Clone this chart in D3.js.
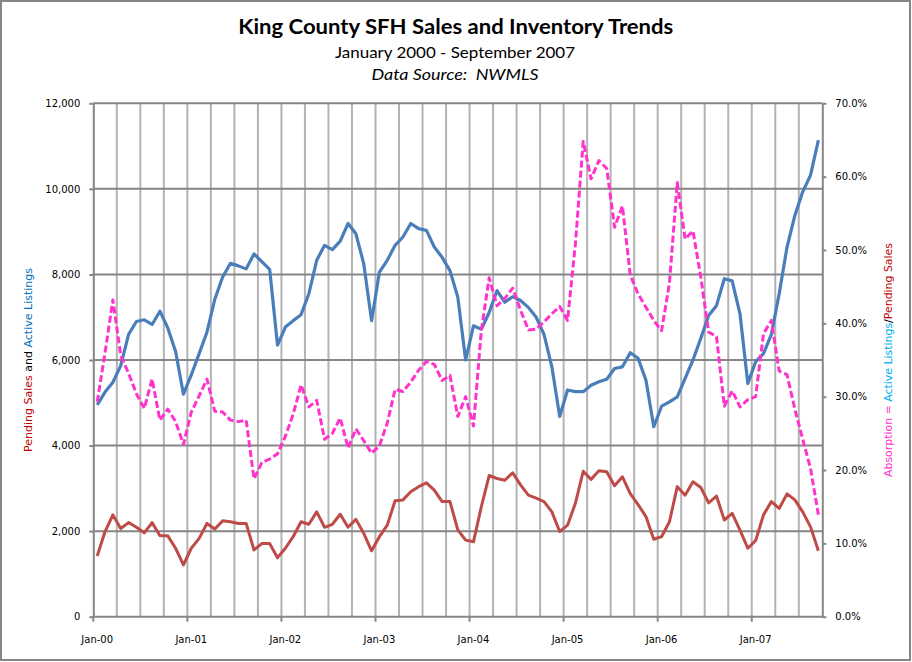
<!DOCTYPE html>
<html>
<head>
<meta charset="utf-8">
<script src="https://cdn.jsdelivr.net/npm/d3@7/dist/d3.min.js"></script>
<style>
  body { margin: 0; background: #fff; }
  svg { display: block; }
  text { white-space: pre; }
</style>
</head>
<body>
<svg id="chart" width="912" height="662"></svg>
<script>
// monthly categories, Jan-00 .. Sep-07
const monthNames = ['Jan', 'Feb', 'Mar', 'Apr', 'May', 'Jun', 'Jul', 'Aug', 'Sep', 'Oct', 'Nov', 'Dec'];
const years = ['00', '01', '02', '03', '04', '05', '06', '07'];
const months = [];
years.forEach(y => monthNames.forEach(m => months.push(m + '-' + y)));
months.length = 93;

const yearTicks = ['Jan-00', 'Jan-01', 'Jan-02', 'Jan-03', 'Jan-04', 'Jan-05', 'Jan-06', 'Jan-07'];

const activeListings = [
  4950, 5250, 5480, 5870, 6600, 6900, 6940, 6830, 7140, 6750, 6200, 5200,
  5650, 6150, 6650, 7420, 7940, 8260, 8200, 8130, 8480, 8300, 8120, 6350,
  6770, 6920, 7060, 7550, 8330, 8680, 8580, 8780, 9190, 8950, 8250, 6920,
  8055, 8330, 8680, 8875, 9190, 9070, 9030, 8640, 8400, 8090, 7470, 6000,
  6800, 6720, 7110, 7620, 7350, 7480, 7390, 7230, 7000, 6600, 5840, 4680,
  5300, 5260, 5260, 5410, 5490, 5550, 5800, 5840, 6170, 6040, 5530, 4440,
  4920, 5020, 5140, 5570, 6000, 6510, 7040, 7270, 7900, 7850, 7080, 5450,
  5960, 6150, 6600, 7550, 8640, 9380, 9930, 10320, 11140
];

const pendingSales = [
  1420, 1990, 2380, 2060, 2200, 2090, 1960, 2200, 1890, 1890, 1600, 1210,
  1600, 1830, 2180, 2050, 2240, 2220, 2180, 2180, 1560, 1710, 1710, 1380,
  1600, 1870, 2220, 2160, 2450, 2090, 2160, 2395, 2090, 2275, 1950, 1540,
  1870, 2140, 2710, 2730, 2920, 3040, 3130, 2960, 2690, 2690, 2030, 1790,
  1750, 2570, 3300, 3230, 3190, 3365, 3080, 2840, 2770, 2690, 2450, 1990,
  2140, 2650, 3400, 3210, 3410, 3390, 3060, 3270, 2875, 2620, 2340, 1810,
  1870, 2220, 3040, 2840, 3155, 3020, 2660, 2820, 2260, 2415, 2025, 1600,
  1780, 2380, 2690, 2530, 2870, 2730, 2450, 2100, 1540
];

// percent
const absorption = [
  29.3, 36.0, 43.2, 35.6, 33.2, 30.4, 28.4, 32.4, 26.8, 28.3, 26.6, 23.5,
  27.9, 30.1, 32.4, 28.0, 27.9, 26.8, 26.6, 26.8, 18.8, 21.0, 21.5, 22.2,
  24.6, 27.6, 31.6, 28.6, 29.5, 24.2, 25.0, 27.1, 23.0, 25.6, 24.0, 22.3,
  23.3, 26.4, 31.0, 30.7, 32.0, 33.6, 34.8, 34.4, 32.2, 32.9, 27.3, 30.0,
  26.0, 39.0, 46.2, 42.4, 43.4, 44.8, 41.8, 39.1, 39.2, 40.2, 41.3, 42.3,
  40.4, 50.8, 64.8, 59.7, 62.2, 61.1, 53.1, 56.0, 46.6, 44.0, 42.2, 40.4,
  39.0, 45.5, 59.2, 51.5, 52.6, 46.3, 38.8, 38.2, 28.7, 30.8, 28.6, 29.6,
  30.0, 38.6, 40.4, 33.5, 33.0, 28.3, 24.2, 20.2, 13.9
];

const leftTicks = [0, 2000, 4000, 6000, 8000, 10000, 12000];
const rightTicks = [0, 10, 20, 30, 40, 50, 60, 70];

const svg = d3.select('#chart');
const plot = { left: 93.3, right: 822.3, top: 103.3, bottom: 616.7 };
const tickFont = '10px "DejaVu Sans", Verdana, sans-serif';

const x = d3.scaleBand().domain(months).range([plot.left, plot.right]).padding(0);
const xc = d => x(d) + x.bandwidth() / 2;
const yL = d3.scaleLinear().domain([0, 12000]).range([plot.bottom, plot.top]);
const yR = d3.scaleLinear().domain([0, 70]).range([plot.bottom, plot.top]);

// outer chart border
svg.append('rect')
  .attr('x', 1).attr('y', 1).attr('width', 909).attr('height', 659)
  .attr('fill', '#fff').attr('stroke', '#868686').attr('stroke-width', 2);

// vertical grid, every quarter
svg.append('g')
  .selectAll('line')
  .data(months.filter((m, i) => i > 0 && i % 3 === 0))
  .join('line')
  .attr('x1', d => x(d)).attr('x2', d => x(d))
  .attr('y1', plot.top).attr('y2', plot.bottom)
  .attr('stroke', '#b3b3b3').attr('stroke-width', 2);

// horizontal grid
svg.append('g')
  .selectAll('line')
  .data(leftTicks.slice(1))
  .join('line')
  .attr('x1', plot.left).attr('x2', plot.right)
  .attr('y1', d => yL(d)).attr('y2', d => yL(d))
  .attr('stroke', '#868686').attr('stroke-width', 2);

function axisStyle(g) {
  g.selectAll('path, line').attr('stroke', '#868686').attr('stroke-width', 2);
  g.selectAll('text').style('font', tickFont).attr('fill', '#000');
}

svg.append('g')
  .attr('transform', `translate(${plot.left},0)`)
  .call(d3.axisLeft(yL).tickValues(leftTicks).tickSize(4).tickSizeOuter(0).tickPadding(9).tickFormat(d3.format(',')))
  .call(axisStyle);

svg.append('g')
  .attr('transform', `translate(${plot.right},0)`)
  .call(d3.axisRight(yR).tickValues(rightTicks).tickSize(4).tickSizeOuter(0).tickPadding(9).tickFormat(d => d.toFixed(1) + '%'))
  .call(axisStyle);

// bottom axis: year ticks at band edges, labels centred on January
const xAxis = svg.append('g').attr('transform', `translate(0,${plot.bottom})`);
xAxis.append('line')
  .attr('x1', plot.left).attr('x2', plot.right)
  .attr('stroke', '#868686').attr('stroke-width', 2);
xAxis.selectAll('line.tick')
  .data(yearTicks)
  .join('line')
  .attr('class', 'tick')
  .attr('x1', d => x(d)).attr('x2', d => x(d))
  .attr('y1', 0).attr('y2', 5)
  .attr('stroke', '#868686').attr('stroke-width', 2);
xAxis.selectAll('text')
  .data(yearTicks)
  .join('text')
  .attr('x', d => xc(d)).attr('y', 26)
  .attr('text-anchor', 'middle')
  .style('font', tickFont)
  .text(d => d);

// series
const lineL = d3.line().x((d, i) => xc(months[i])).y(d => yL(d));
const lineR = d3.line().x((d, i) => xc(months[i])).y(d => yR(d));

svg.append('path').datum(pendingSales)
  .attr('d', lineL).attr('fill', 'none')
  .attr('stroke', '#be4b48').attr('stroke-width', 3).attr('stroke-linejoin', 'round');

svg.append('path').datum(activeListings)
  .attr('d', lineL).attr('fill', 'none')
  .attr('stroke', '#4a7ebb').attr('stroke-width', 3.2).attr('stroke-linejoin', 'round');

svg.append('path').datum(absorption)
  .attr('d', lineR).attr('fill', 'none')
  .attr('stroke', '#ff33cc').attr('stroke-width', 3).attr('stroke-dasharray', '7,3')
  .attr('stroke-linejoin', 'round');

// titles
const titleFont = 'Lato, "Open Sans", sans-serif';
svg.append('text')
  .attr('x', 455.8).attr('y', 34.3).attr('text-anchor', 'middle')
  .attr('textLength', 435).attr('lengthAdjust', 'spacingAndGlyphs')
  .style('font', `bold 20px ${titleFont}`)
  .text('King County SFH Sales and Inventory Trends');

svg.append('text')
  .attr('x', 455).attr('y', 58.3).attr('text-anchor', 'middle')
  .attr('textLength', 240).attr('lengthAdjust', 'spacingAndGlyphs')
  .style('font', `16px ${titleFont}`)
  .text('January 2000 - September 2007');

svg.append('text')
  .attr('x', 455).attr('y', 80).attr('text-anchor', 'middle')
  .attr('textLength', 167).attr('lengthAdjust', 'spacingAndGlyphs')
  .style('font', `italic 16px ${titleFont}`)
  .text('Data Source:  NWMLS');

// axis titles, multi-coloured
function axisTitle(cx, cy, len, parts) {
  const t = svg.append('text')
    .attr('transform', `translate(${cx},${cy}) rotate(-90)`)
    .attr('text-anchor', 'middle')
    .attr('dy', '0.35em')
    .attr('textLength', len).attr('lengthAdjust', 'spacingAndGlyphs')
    .style('font', tickFont);
  parts.forEach(p => t.append('tspan').attr('fill', p[1]).text(p[0]));
}

axisTitle(28, 360, 184, [
  ['Pending Sales', '#c00000'], [' and ', '#000'], ['Active Listings', '#0070c0']
]);

axisTitle(888, 360, 234, [
  ['Absorption = ', '#ff33cc'], ['Active Listings', '#00b0f0'], ['/', '#000'], ['Pending Sales', '#c00000']
]);
</script>
</body>
</html>
